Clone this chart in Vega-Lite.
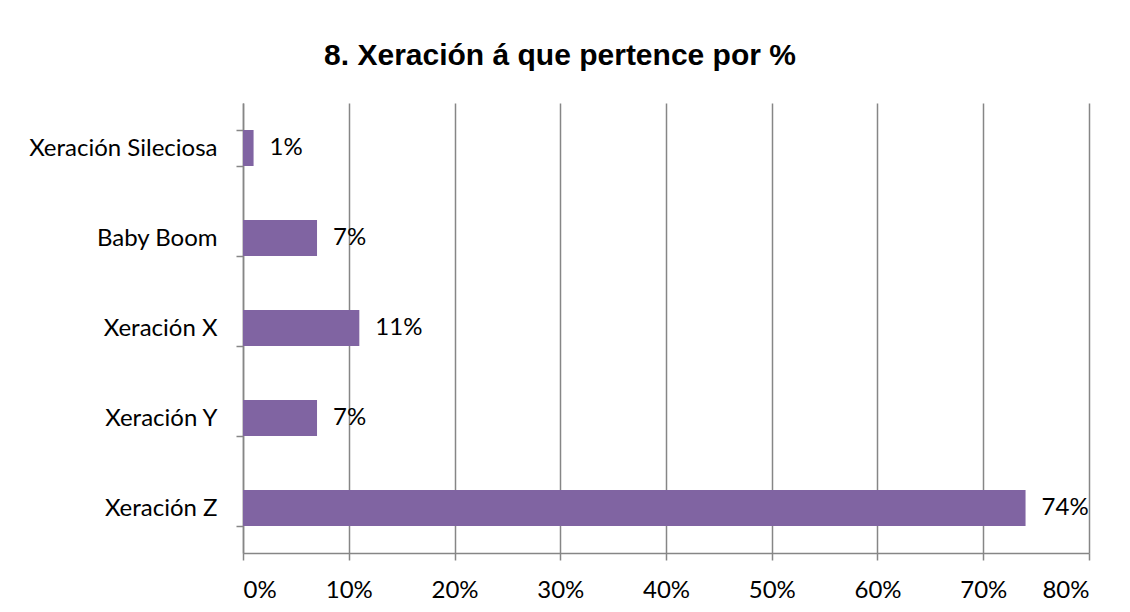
{
  "$schema": "https://vega.github.io/schema/vega-lite/v6.json",
  "autosize": "none",
  "width": 846,
  "height": 450,
  "padding": {"left": 243, "top": 103, "right": 41, "bottom": 59},
  "background": "white",
  "title": {
    "text": "8. Xeración á que pertence por %",
    "font": "Liberation Sans",
    "fontSize": 30,
    "fontWeight": "bold",
    "color": "black",
    "anchor": "middle",
    "baseline": "alphabetic",
    "dx": -106,
    "offset": -4
  },
  "data": {
    "values": [
      {"xeracion": "Xeración Sileciosa", "pct": 0.01},
      {"xeracion": "Baby Boom", "pct": 0.07},
      {"xeracion": "Xeración X", "pct": 0.11},
      {"xeracion": "Xeración Y", "pct": 0.07},
      {"xeracion": "Xeración Z", "pct": 0.74}
    ]
  },
  "config": {
    "view": {"stroke": null},
    "axis": {"labelFont": "Lato", "labelFontSize": 24, "labelColor": "black", "labelLimit": 400, "domainColor": "#868686", "tickColor": "#868686", "domainWidth": 1.5, "tickWidth": 1.5, "title": null}
  },
  "encoding": {
    "y": {
      "field": "xeracion",
      "type": "nominal",
      "sort": null,
      "scale": {"paddingInner": 0.6, "paddingOuter": 0.3},
      "axis": {"tickBand": "extent", "tickSize": 7, "labelPadding": 19, "grid": false}
    },
    "x": {
      "field": "pct",
      "type": "quantitative",
      "scale": {"domain": [0, 0.8], "nice": false},
      "axis": {"format": ".0%", "values": [0, 0.1, 0.2, 0.3, 0.4, 0.5, 0.6, 0.7, 0.8], "tickSize": 7, "labelPadding": 18, "grid": true, "gridColor": "#868686", "gridWidth": 1.5, "gridOpacity": 1}
    }
  },
  "layer": [
    {"mark": {"type": "bar", "color": "#8064A2"}},
    {
      "mark": {"type": "text", "align": "left", "baseline": "middle", "dx": 16, "font": "Lato", "fontSize": 24, "color": "black"},
      "encoding": {"text": {"field": "pct", "type": "quantitative", "format": ".0%"}}
    }
  ]
}
